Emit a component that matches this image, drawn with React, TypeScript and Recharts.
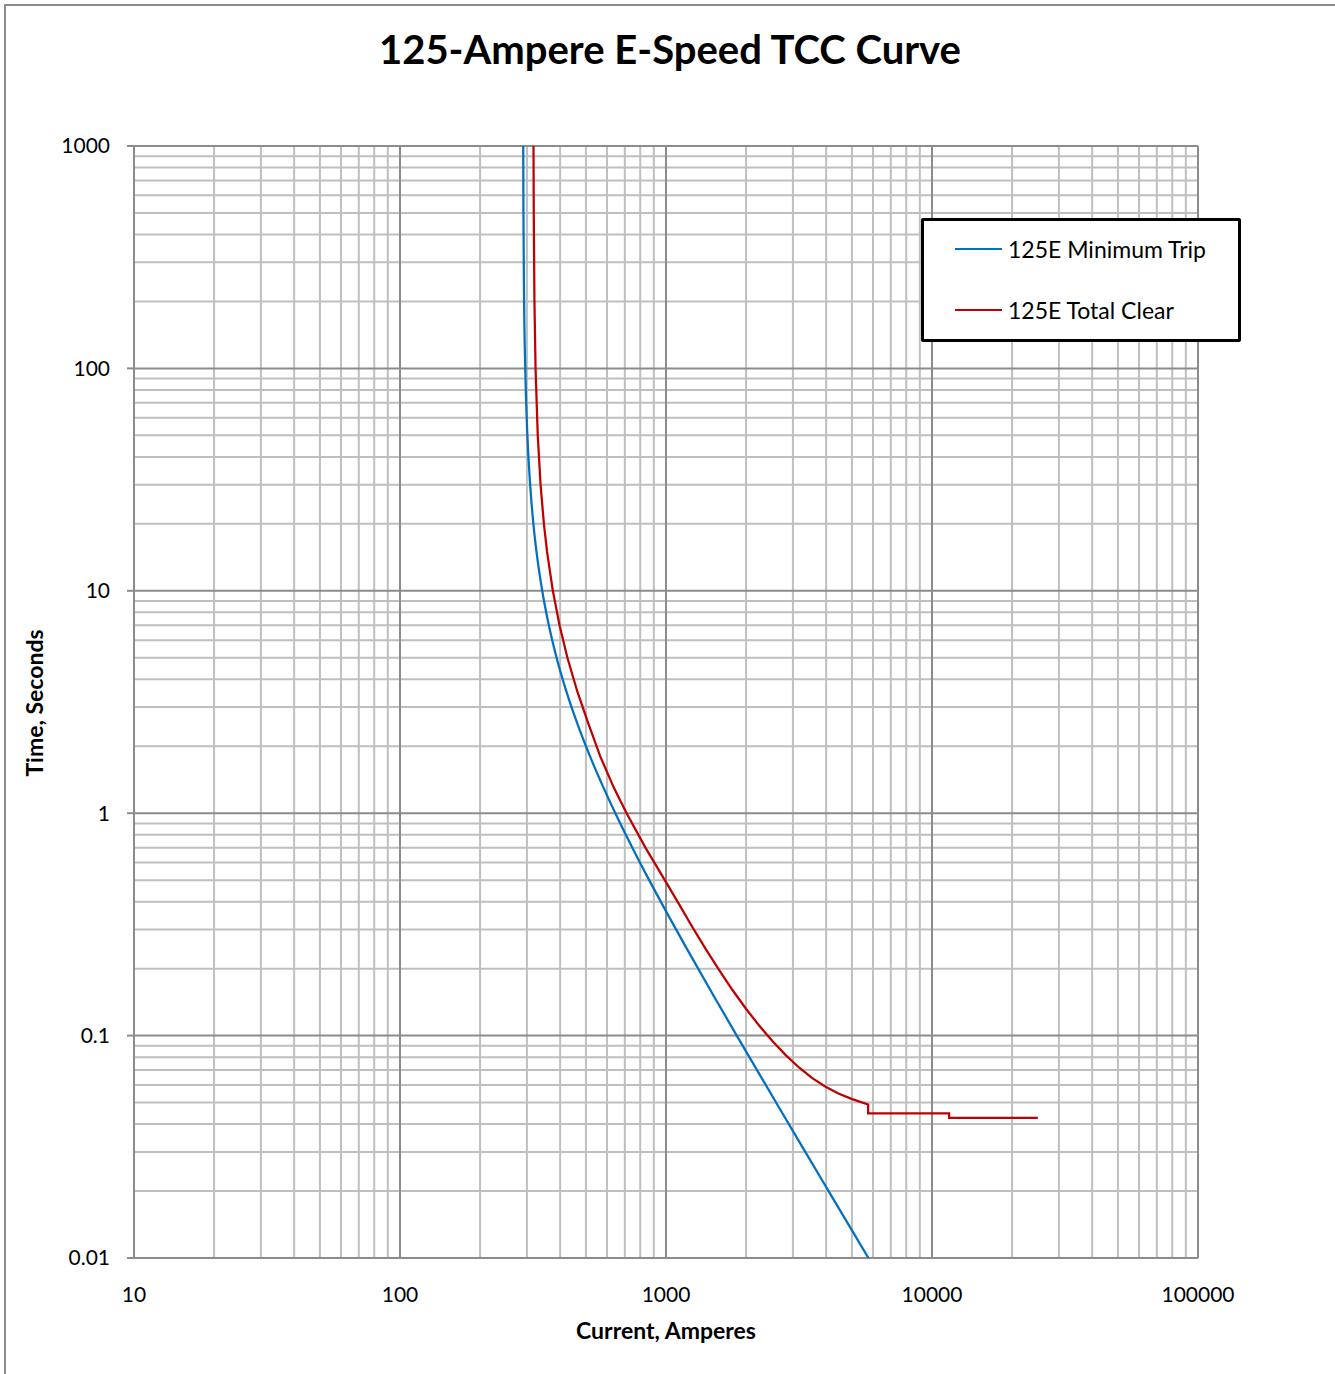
import { LineChart, Line, XAxis, YAxis, ReferenceLine } from "recharts";

// current (A) / time (s)
const minTripAmps = [290.6, 291.1, 292.8, 295.7, 301.2, 308.5, 317.3, 325.9, 342.5, 362.7, 387.9, 423, 465.7, 518.2, 582.7, 645.1, 747.3, 864.9, 1016.2, 1188.3, 1515.7, 1845, 2593, 3339, 4085, 4714, 5769];
const minTripSecs = [1000, 500, 200, 100, 50, 30, 20, 15, 10, 7, 5, 3.5, 2.5, 1.8, 1.3, 1, 0.7, 0.5, 0.35, 0.25, 0.15, 0.1, 0.05, 0.03, 0.02, 0.015, 0.01];

const totalClearAmps = [317.6, 318.3, 320.2, 323.3, 329.5, 337.6, 347.5, 357.1, 375.5, 397.9, 426, 465, 512.3, 566, 637, 711, 837, 1000, 1122, 1259, 1413, 1585, 1778, 1995, 2239, 2512, 2818, 3162, 3548, 3981, 4467, 5012, 5754, 5754, 11600, 11600, 25000];
const totalClearSecs = [1000, 500, 200, 100, 50, 30, 20, 15, 10, 7, 5, 3.5, 2.5, 1.8, 1.3, 1, 0.7, 0.49, 0.388, 0.3064, 0.2443, 0.1968, 0.1603, 0.1324, 0.111, 0.0945, 0.0817, 0.0719, 0.0644, 0.0589, 0.0548, 0.0518, 0.049, 0.0447, 0.0447, 0.0427, 0.0427];

const xTicks = [10, 100, 1000, 10000, 100000];
const yTicks = [0.01, 0.1, 1, 10, 100, 1000];

const minTrip = minTripAmps.map((a, i) => ({ amps: a, secs: minTripSecs[i] }));
const totalClear = totalClearAmps.map((a, i) => ({ amps: a, secs: totalClearSecs[i] }));

function minors(decades: number[]) {
  const out: number[] = [];
  decades.slice(0, -1).forEach(d => {
    for (let k = 2; k <= 9; k++) out.push(Number((k * d).toPrecision(6)));
  });
  return out;
}

const FONT = "Lato, 'Open Sans', sans-serif";
const MINOR = "#bfbfbf";
const MAJOR = "#8c8c8c";

export default function App() {
  return (
    <div style={{ position: "absolute", left: 0, top: 0, width: 1335, height: 1374, overflow: "hidden", background: "#fff", fontFamily: FONT }}>
      <div style={{ position: "absolute", left: 4, top: 4, width: 1340, height: 1380, border: "2px solid #8c8c8c" }} />
      <div style={{ position: "absolute", left: 0, top: 24, width: 1340, textAlign: "center", fontSize: 40, fontWeight: 700, lineHeight: "50px", color: "#000" }}>
        125-Ampere E-Speed TCC Curve
      </div>
      <div style={{ position: "absolute", left: 0, top: 0 }}>
        <LineChart width={1335} height={1374} margin={{ top: 146, right: 137, bottom: 56, left: 74 }}>
          <XAxis type="number" dataKey="amps" scale="log" domain={[10, 100000]} ticks={xTicks}
                 allowDataOverflow axisLine={false} tickLine={false} tickSize={0} tickMargin={29} height={60}
                 tick={{ fontSize: 21, fill: "#000", fontFamily: FONT }} />
          <YAxis type="number" dataKey="secs" scale="log" domain={[0.01, 1000]} ticks={yTicks}
                 allowDataOverflow axisLine={false} tickLine={{ stroke: MAJOR, strokeWidth: 2 }} tickSize={7} tickMargin={17} width={60}
                 tickFormatter={(v: number) => String(v)}
                 tick={{ fontSize: 21, fill: "#000", fontFamily: FONT }} />
          {minors(xTicks).map(v => <ReferenceLine key={"xm" + v} x={v} stroke={MINOR} strokeWidth={2} />)}
          {minors(yTicks).map(v => <ReferenceLine key={"ym" + v} y={v} stroke={MINOR} strokeWidth={2} />)}
          {xTicks.map(v => <ReferenceLine key={"xM" + v} x={v} stroke={MAJOR} strokeWidth={2} />)}
          {yTicks.map(v => <ReferenceLine key={"yM" + v} y={v} stroke={MAJOR} strokeWidth={2} />)}
          <Line data={minTrip} dataKey="secs" type="monotone" stroke="#0070c0" strokeWidth={2.25}
                dot={false} isAnimationActive={false} />
          <Line data={totalClear} dataKey="secs" type="linear" stroke="#c00000" strokeWidth={2.25}
                dot={false} isAnimationActive={false} />
        </LineChart>
      </div>
      <div style={{ position: "absolute", left: 0, top: 1316, width: 1332, textAlign: "center", fontSize: 23, fontWeight: 700, lineHeight: "28px" }}>
        Current, Amperes
      </div>
      <div style={{ position: "absolute", left: 34, top: 703, transform: "translate(-50%, -50%) rotate(-90deg)", whiteSpace: "nowrap", fontSize: 23, fontWeight: 700, lineHeight: "28px" }}>
        Time, Seconds
      </div>
      <div style={{ position: "absolute", left: 921, top: 218, width: 320, height: 124, boxSizing: "border-box", border: "3px solid #000", borderRadius: 2, background: "#fff" }}>
        {[["#0070c0", "125E Minimum Trip", 28], ["#c00000", "125E Total Clear", 89]].map(([c, label, top]) => (
          <div key={label as string} style={{ position: "absolute", left: 31, top: (top as number) - 14, height: 28, display: "flex", alignItems: "center" }}>
            <div style={{ width: 47, height: 2, background: c as string }} />
            <span style={{ marginLeft: 6, fontSize: 23, color: "#000" }}>{label}</span>
          </div>
        ))}
      </div>
    </div>
  );
}
